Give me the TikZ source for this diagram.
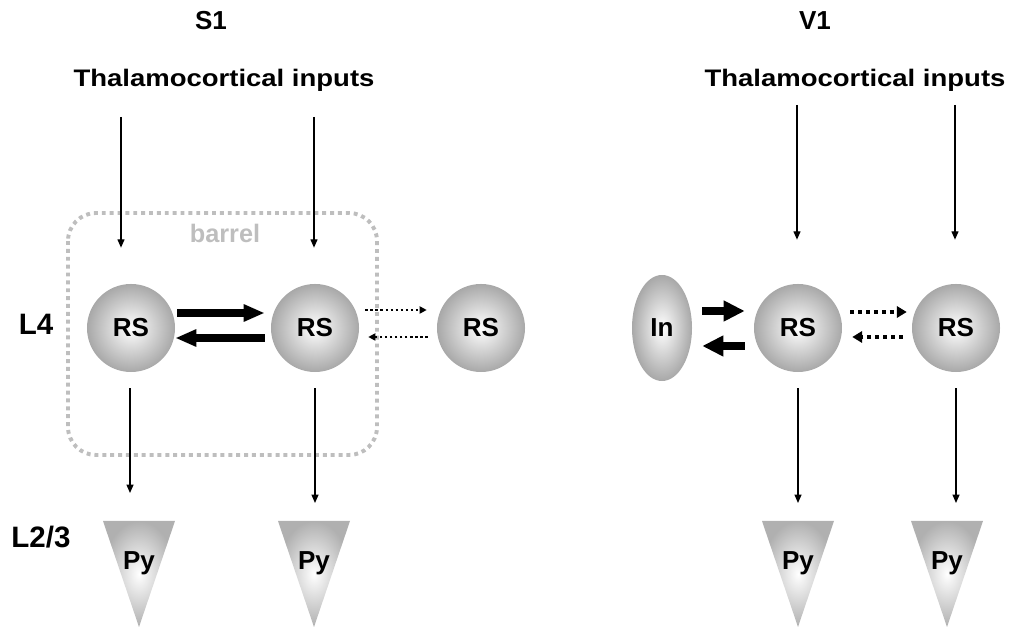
\documentclass[tikz,border=0pt]{standalone}
\usepackage{fontspec}
\setmainfont{Liberation Sans}
\newfontfamily\widefont[FakeStretch=1.15]{Liberation Sans}
\usetikzlibrary{arrows.meta, shapes.geometric, calc}
\definecolor{cellgray}{RGB}{168,168,168}
\definecolor{pygray}{RGB}{176,176,176}
\definecolor{barrelgray}{RGB}{190,190,190}
\tikzstyle{cell} = [circle, minimum size=2.2cm, inner sep=0pt, shade, inner color=white, outer color=cellgray, font=\fontsize{18.5}{20}\selectfont\bfseries]
\tikzstyle{inter} = [ellipse, minimum width=1.5cm, minimum height=2.65cm, inner sep=0pt, shade, inner color=white, outer color=cellgray, font=\fontsize{18.5}{20}\selectfont\bfseries]
\tikzstyle{pycell} = [shade, inner color=white, outer color=pygray]
\tikzstyle{title} = [anchor=base, font=\fontsize{18.5}{20}\selectfont\bfseries]
\tikzstyle{inlabel} = [anchor=base, font=\widefont\fontsize{17}{20}\selectfont\bfseries]
\tikzstyle{layer} = [anchor=base, font=\fontsize{21}{24}\selectfont\bfseries]
\tikzstyle{feed} = [-{Triangle[length=6pt, width=5pt]}, line width=0.9pt]
\tikzstyle{rec} = [-{Triangle[length=15pt, width=11.5pt]}, line width=5pt]
\tikzstyle{recbig} = [-{Triangle[length=15pt, width=14pt]}, line width=5.7pt]
\tikzstyle{weak} = [-{Triangle[length=5pt, width=5pt]}, line width=1.8pt, dash pattern=on 1.8pt off 1.8pt]
\tikzstyle{weakbig} = [-{Triangle[length=7pt, width=8pt]}, line width=2.8pt, dash pattern=on 2.8pt off 2.8pt]

\begin{document}
\begin{tikzpicture}[x=0.025cm, y=-0.025cm]
    \useasboundingbox (0,0) rectangle (1009,628);

    % Barrel outline
    \draw[barrelgray, line width=2.8pt, dash pattern=on 2.8pt off 2.8pt, rounded corners=0.7cm] (68,213) rectangle (377,455);
    \node[anchor=base, text=barrelgray, font=\fontsize{18}{20}\selectfont\bfseries] (barrel) at (225,243) {barrel};

    % Titles
    \node[title] (s1) at (211,30) {S1};
    \node[title] (v1) at (815,30) {V1};
    \node[inlabel] (tcs) at (224,87) {Thalamocortical inputs};
    \node[inlabel] (tcv) at (855,87) {Thalamocortical inputs};

    % Layer labels
    \node[layer] (l4) at (36,335) {L4};
    \node[layer] (l23) at (41,548) {L2/3};

    % L4 cells
    \node[cell] (rsA) at (131,328) {RS};
    \node[cell] (rsB) at (315,328) {RS};
    \node[cell] (rsC) at (481,328) {RS};
    \node[inter] (in) at (662,328) {In};
    \node[cell] (rsD) at (798,328) {RS};
    \node[cell] (rsE) at (956,328) {RS};

    % L2/3 pyramidal cells
    \foreach \x/\n in {139/pyA, 314/pyB, 798/pyC, 947/pyD} {
        \shade[pycell] (\x-36,521) -- (\x+36,521) -- (\x,627) -- cycle;
        \node[anchor=base, font=\fontsize{18.5}{20}\selectfont\bfseries] (\n) at (\x,570) {Py};
        \coordinate (\n-top) at (\x,521);
    }

    % Thalamocortical inputs
    \coordinate (inA) at (121,117);
    \coordinate (inB) at (314,117);
    \coordinate (inD) at (797,105);
    \coordinate (inE) at (955,105);
    \draw[feed, shorten >=0.9cm] (inA) -- (inA |- rsA.north);
    \draw[feed, shorten >=0.9cm] (inB) -- (inB |- rsB.north);
    \draw[feed, shorten >=1.1cm] (inD) -- (inD |- rsD.north);
    \draw[feed, shorten >=1.1cm] (inE) -- (inE |- rsE.north);

    % S1 connections
    \draw[rec] ($(rsA.east)+(2,-15)$) -- ($(rsB.west)+(-6,-15)$);
    \draw[rec] ($(rsB.west)+(-6,10)$) -- ($(rsA.east)+(0,10)$);
    \draw[weak] ($(rsB.east)+(6,-18)$) -- ($(rsC.west)+(-10,-18)$);
    \draw[weak] ($(rsC.west)+(-9,9)$) -- ($(rsB.east)+(9,9)$);

    % V1 connections
    \draw[recbig] ($(in.east)+(10,-17)$) -- ($(rsD.west)+(-9,-17)$);
    \draw[recbig] ($(rsD.west)+(-9,18)$) -- ($(in.east)+(10,18)$);
    \draw[weakbig] ($(rsD.east)+(8,-16)$) -- ($(rsE.west)+(-5,-16)$);
    \draw[weakbig] ($(rsE.west)+(-9,9)$) -- ($(rsD.east)+(10,9)$);

    % L4 to L2/3
    \draw[feed, shorten <=0.4cm, shorten >=0.7cm] (rsA.south -| 130,0) -- (130,521);
    \draw[feed, shorten <=0.4cm, shorten >=0.45cm] (rsB.south) -- (rsB.south |- pyB-top);
    \draw[feed, shorten <=0.4cm, shorten >=0.45cm] (rsD.south) -- (pyC-top);
    \draw[feed, shorten <=0.4cm, shorten >=0.45cm] (rsE.south) -- (rsE.south |- pyD-top);
\end{tikzpicture}
\end{document}
